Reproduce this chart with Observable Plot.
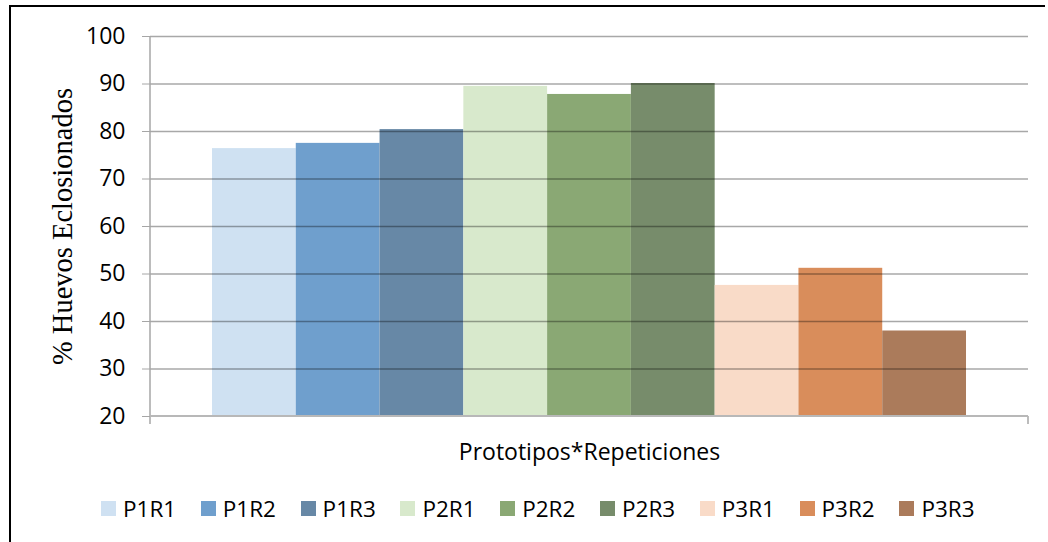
<!DOCTYPE html>
<html>
<head>
<meta charset="utf-8">
<script src="https://cdn.jsdelivr.net/npm/d3@7"></script>
<script src="https://cdn.jsdelivr.net/npm/@observablehq/plot@0.6"></script>
<style>
  html, body { margin: 0; padding: 0; background: #fff; overflow: hidden; }
  body { width: 1048px; height: 542px; position: relative; font-family: "Open Sans", sans-serif; }
  #frame { position: absolute; left: 9px; top: 5px; width: 1036px; height: 600px;
           border-left: 2px solid #000; border-top: 2px solid #000; box-sizing: border-box; }
  #chart { position: absolute; left: 0; top: 0; }
  #legend { position: absolute; left: 101px; top: 493px; display: flex; font-size: 22.5px; color: #000; }
  .item { width: 99.8px; display: flex; align-items: center; white-space: nowrap; }
  .sw { width: 15px; height: 15px; margin-right: 7px; flex: none; }
</style>
</head>
<body>
<div id="frame"></div>
<div id="chart"></div>
<div id="legend"></div>
<script>
const series = ["P1R1", "P1R2", "P1R3", "P2R1", "P2R2", "P2R3", "P3R1", "P3R2", "P3R3"];
const values = [76.4, 77.5, 80.4, 89.5, 87.8, 90.1, 47.6, 51.2, 38.0];
const colors = ["#cfe1f2", "#6f9fcd", "#6788a6", "#d8e9cc", "#8aa874", "#778c6b", "#f9dbc8", "#d98d5b", "#ab7b5b"];
const yTicks = [20, 30, 40, 50, 60, 70, 80, 90, 100];
const yLabel = "% Huevos Eclosionados";
const xLabel = "Prototipos*Repeticiones";

const data = series.map((name, i) => ({name, value: values[i]}));

function axisLines(...args) {
  const dims = args.find(a => a && typeof a === "object" && "marginLeft" in a && "width" in a);
  const x0 = dims.marginLeft, x1 = dims.width - dims.marginRight;
  const yt = dims.marginTop, yb = dims.height - dims.marginBottom;
  const g = d3.create("svg:g").attr("stroke", "#a6a6a6").attr("stroke-width", 1.5).attr("fill", "none");
  g.append("line").attr("x1", x0).attr("x2", x0).attr("y1", yt).attr("y2", yb + 8);
  g.append("line").attr("x1", x1).attr("x2", x1).attr("y1", yb).attr("y2", yb + 8);
  g.append("line").attr("x1", x0).attr("x2", x1).attr("y1", yb).attr("y2", yb).attr("stroke", "#b8b8b8").attr("stroke-width", 2);
  return g.node();
}

const chart = Plot.plot({
  width: 1048,
  height: 470,
  marginLeft: 150,
  marginRight: 20,
  marginTop: 36,
  marginBottom: 54,
  style: {fontFamily: "'Open Sans', sans-serif", background: "transparent", overflow: "visible"},
  x: {domain: series, paddingInner: 0, paddingOuter: 0.74, round: false, axis: null},
  y: {domain: [20, 100], ticks: yTicks},
  color: {domain: series, range: colors},
  marks: [
    Plot.barY(data, {x: "name", y1: 20, y2: "value", fill: "name"}),
    Plot.gridY(yTicks.filter(t => t > 20), {stroke: "#000", strokeOpacity: 0.34, strokeWidth: 1.4}),
    Plot.axisY({ticks: yTicks, tickSize: 8, tickPadding: 17, label: null, fontSize: 23, stroke: "#a6a6a6", fill: "#000", tickFormat: d => String(d)}),
    axisLines,
    Plot.text([yLabel], {frameAnchor: "left", dx: -88, rotate: -90, textAnchor: "middle", lineAnchor: "middle",
      fontFamily: "'Liberation Serif', serif", fontSize: 28.5, fill: "#000"}),
    Plot.text([xLabel], {frameAnchor: "bottom", dy: 36, textAnchor: "middle", lineAnchor: "middle", fontSize: 23, fill: "#000"})
  ]
});
document.getElementById("chart").append(chart);

const legend = document.getElementById("legend");
series.forEach((s, i) => {
  const it = document.createElement("div");
  it.className = "item";
  const sw = document.createElement("span");
  sw.className = "sw";
  sw.style.background = colors[i];
  const tx = document.createElement("span");
  tx.textContent = s;
  it.append(sw, tx);
  legend.append(it);
});
</script>
</body>
</html>
